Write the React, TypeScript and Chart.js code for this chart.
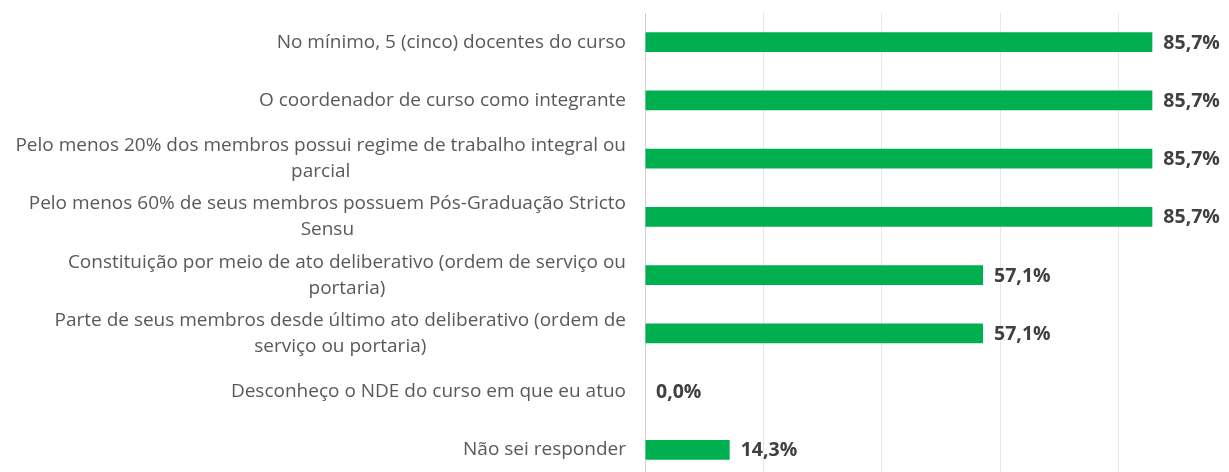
import React, { useEffect, useRef } from "react";
import { Chart, registerables } from "chart.js";

Chart.register(...registerables);

const categories: string[][] = [
  ["No mínimo, 5 (cinco) docentes do curso"],
  ["O coordenador de curso como integrante"],
  ["Pelo menos 20% dos membros possui regime de trabalho integral ou", "parcial"],
  ["Pelo menos 60% de seus membros possuem Pós-Graduação Stricto", "Sensu"],
  ["Constituição por meio de ato deliberativo (ordem de serviço ou", "portaria)"],
  ["Parte de seus membros desde último ato deliberativo (ordem de", "serviço ou portaria)"],
  ["Desconheço o NDE do curso em que eu atuo"],
  ["Não sei responder"],
];

const values: number[] = [85.7, 85.7, 85.7, 85.7, 57.1, 57.1, 0.0, 14.3];

const xTicks: number[] = [0, 20, 40, 60, 80, 100];

const FONT = "'Open Sans', 'Noto Sans', sans-serif";

const labelPlugin = {
  id: "customLabels",
  afterDraw(chart: any) {
    const ctx = chart.ctx;
    const yScale = chart.scales.y;
    const area = chart.chartArea;
    ctx.save();
    // category labels
    ctx.font = `19px ${FONT}`;
    ctx.fillStyle = "#595959";
    ctx.textAlign = "center";
    ctx.textBaseline = "middle";
    const lh = 26;
    const rightEdge = area.left - 19;
    categories.forEach((lines, i) => {
      const yc = yScale.getPixelForValue(i);
      const maxW = Math.max(...lines.map((l) => ctx.measureText(l).width));
      const cx = rightEdge - maxW / 2;
      const y0 = yc - ((lines.length - 1) * lh) / 2;
      lines.forEach((l, j) => ctx.fillText(l, cx, y0 + j * lh));
    });
    // value labels
    ctx.font = `bold 19.5px ${FONT}`;
    ctx.fillStyle = "#404040";
    ctx.textAlign = "left";
    const meta = chart.getDatasetMeta(0);
    meta.data.forEach((bar: any, i: number) => {
      const txt = values[i].toFixed(1).replace(".", ",") + "%";
      ctx.fillText(txt, bar.x + 11, bar.y + 1);
    });
    ctx.restore();
  },
};

export default function App() {
  const ref = useRef<HTMLCanvasElement>(null);
  useEffect(() => {
    if (!ref.current) return;
    const chart = new Chart(ref.current, {
      type: "bar",
      data: {
        labels: categories.map((c) => c.join(" ")),
        datasets: [
          {
            data: values,
            backgroundColor: "#00B050",
            borderColor: "#00B050",
            borderWidth: 0,
            barPercentage: 0.343,
            categoryPercentage: 1,
          },
        ],
      },
      options: {
        indexAxis: "y",
        responsive: false,
        animation: false,
        layout: { padding: { top: 13, bottom: 13, left: 0, right: 3 } },
        plugins: { legend: { display: false }, tooltip: { enabled: false } },
        scales: {
          x: {
            min: 0,
            max: 100,
            afterBuildTicks: (scale: any) => {
              scale.ticks = xTicks.map((v) => ({ value: v }));
            },
            ticks: { display: false },
            grid: { color: "#e6e6e6", lineWidth: 1, drawTicks: false },
            border: { display: false },
          },
          y: {
            ticks: { display: false },
            grid: { display: false, drawTicks: false },
            border: { display: true, color: "#d0d0d0", width: 1 },
            afterFit: (scale: any) => {
              scale.width = 645;
            },
          },
        },
      },
      plugins: [labelPlugin],
    });
    return () => chart.destroy();
  }, []);
  return (
    <div style={{ position: "absolute", left: 0, top: 0, width: 1240, height: 492 }}>
      <canvas ref={ref} width={1240} height={492} />
    </div>
  );
}
